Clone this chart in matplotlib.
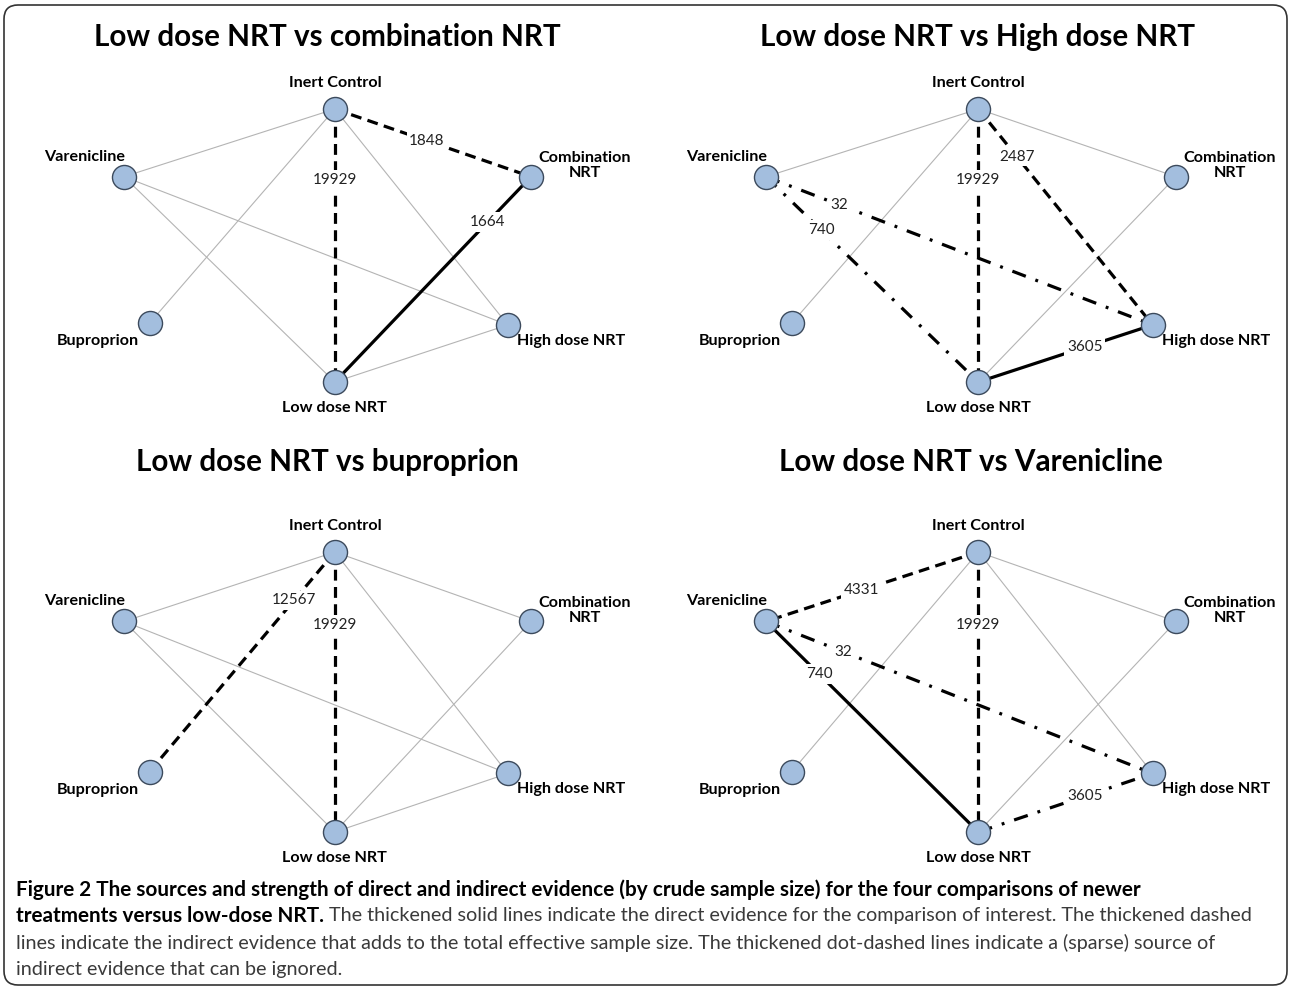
import matplotlib
matplotlib.use("Agg")
import matplotlib.pyplot as plt
from matplotlib.patches import FancyBboxPatch
from matplotlib.transforms import IdentityTransform

# ---- data ----
nodes = ["Inert Control", "Varenicline", "Combination NRT",
         "Buproprion", "High dose NRT", "Low dose NRT"]
node_labels = ["Inert Control", "Varenicline", "Combination\nNRT",
               "Buproprion", "High dose NRT", "Low dose NRT"]

# all trial comparisons in the network (thin grey lines)
network = [("Inert Control", "Varenicline"), ("Inert Control", "Combination NRT"),
           ("Inert Control", "Buproprion"), ("Inert Control", "High dose NRT"),
           ("Inert Control", "Low dose NRT"), ("Varenicline", "High dose NRT"),
           ("Varenicline", "Low dose NRT"), ("Low dose NRT", "High dose NRT"),
           ("Low dose NRT", "Combination NRT")]

titles = ["Low dose NRT vs combination NRT", "Low dose NRT vs High dose NRT",
          "Low dose NRT vs buproprion", "Low dose NRT vs Varenicline"]

# highlighted evidence: (from, to, kind, sample size)
evidence = [
    [("Inert Control", "Combination NRT", "dashed", 1848),
     ("Inert Control", "Low dose NRT", "dashed", 19929),
     ("Low dose NRT", "Combination NRT", "solid", 1664)],
    [("Inert Control", "High dose NRT", "dashed", 2487),
     ("Inert Control", "Low dose NRT", "dashed", 19929),
     ("Varenicline", "High dose NRT", "dashdot", 32),
     ("Varenicline", "Low dose NRT", "dashdot", 740),
     ("Low dose NRT", "High dose NRT", "solid", 3605)],
    [("Inert Control", "Buproprion", "dashed", 12567),
     ("Inert Control", "Low dose NRT", "dashed", 19929)],
    [("Inert Control", "Varenicline", "dashed", 4331),
     ("Inert Control", "Low dose NRT", "dashed", 19929),
     ("Varenicline", "Low dose NRT", "solid", 740),
     ("Varenicline", "High dose NRT", "dashdot", 32),
     ("Low dose NRT", "High dose NRT", "dashdot", 3605)],
]

# ---- layout / style ----
W, H = 1292, 989
layout = {"Inert Control": (0.518, 1.0), "Varenicline": (0.0, 0.752),
          "Combination NRT": (1.0, 0.752), "Buproprion": (0.063, 0.216),
          "High dose NRT": (0.943, 0.209), "Low dose NRT": (0.518, 0.0)}
label_off = {"Inert Control": (0, 26), "Varenicline": (-39, 20),
             "Combination NRT": (54, 11), "Buproprion": (-52, -18),
             "High dose NRT": (63, -16), "Low dose NRT": (0, -26)}
label_t = [[0.47, 0.26, 0.78], [0.22, 0.26, 0.19, 0.26, 0.61],
           [0.22, 0.26], [0.55, 0.26, 0.25, 0.20, 0.61]]
cols = [(124, 407), (766, 410)]
rows = [(109, 382), (552, 832)]
title_pos = [(327, 37), (977, 37), (327, 462), (971, 462)]
styles = {"solid": "-", "dashed": (0, (3.4, 2.0)), "dashdot": (0, (4.5, 3.2, 0.9, 3.2))}

node_fc = "#a3bede"
node_ec = "#3c4a5c"
head_font = "Lato"
cap_font = "Lato"

fig = plt.figure(figsize=(W / 100, H / 100), dpi=100)

for i in range(4):
    x0, w = cols[i % 2]
    ytop, ybot = rows[i // 2]
    ax = fig.add_axes([x0 / W, 1 - ybot / H, w / W, (ybot - ytop) / H])
    ax.set_xlim(0, 1)
    ax.set_ylim(0, 1)
    ax.axis("off")

    hl = {frozenset((a, b)) for a, b, _, _ in evidence[i]}
    for a, b in network:
        if frozenset((a, b)) in hl:
            continue
        ax.plot([layout[a][0], layout[b][0]], [layout[a][1], layout[b][1]],
                color="#b4b4b4", lw=0.8, zorder=1, clip_on=False)

    for (a, b, kind, n), t in zip(evidence[i], label_t[i]):
        xa, ya = layout[a]
        xb, yb = layout[b]
        ax.plot([xa, xb], [ya, yb], color="black", lw=2.3, linestyle=styles[kind],
                zorder=2, clip_on=False, solid_capstyle="butt", dash_capstyle="butt")
        ax.text(xa + t * (xb - xa), ya + t * (yb - ya), str(n), ha="center", va="center",
                fontsize=11, family=head_font, color="#222222", zorder=3,
                bbox=dict(fc="white", ec="none", pad=2.0))

    xs = [layout[n][0] for n in nodes]
    ys = [layout[n][1] for n in nodes]
    ax.scatter(xs, ys, s=300, c=node_fc, edgecolors=node_ec, linewidths=1.0,
               zorder=4, clip_on=False)
    for n, lab in zip(nodes, node_labels):
        dx, dy = label_off[n]
        ax.annotate(lab, layout[n], xytext=(dx, dy), textcoords="offset pixels",
                    ha="center", va="center", fontsize=11.6, fontweight="bold",
                    family=head_font, linespacing=1.1, zorder=5)

for title, (tx, ty) in zip(titles, title_pos):
    fig.text(tx / W, 1 - ty / H, title, ha="center", va="center", fontsize=21.3,
             fontweight="bold", family=head_font)

# frame
frame = FancyBboxPatch((4, 4), W - 9, H - 9, boxstyle="round,pad=0,rounding_size=14",
                       transform=IdentityTransform(), fc="none", ec="#333333", lw=1.2)
fig.add_artist(frame)

# caption
cap_lines = [
    ("Figure 2 The sources and strength of direct and indirect evidence (by crude sample size) for the four comparisons of newer", ""),
    ("treatments versus low-dose NRT.", " The thickened solid lines indicate the direct evidence for the comparison of interest. The thickened dashed"),
    ("", "lines indicate the indirect evidence that adds to the total effective sample size. The thickened dot-dashed lines indicate a (sparse) source of"),
    ("", "indirect evidence that can be ignored."),
]
cap_y = [890, 916, 943, 969]
renderer = fig.canvas.get_renderer()

# pick a caption size so the first (bold) line spans the same width as in the figure
probe = fig.text(0, 0, cap_lines[0][0], fontsize=10, fontweight="bold", family=cap_font)
cap_bold = 10 * 1134 / probe.get_window_extent(renderer).width
probe.remove()
probe = fig.text(0, 0, cap_lines[2][1], fontsize=10, family=cap_font)
cap_reg = min(cap_bold, 10 * 1205 / probe.get_window_extent(renderer).width)
probe.remove()

for (bold, reg), cy in zip(cap_lines, cap_y):
    x = 16
    if bold:
        tb = fig.text(x / W, 1 - cy / H, bold, ha="left", va="center", fontsize=cap_bold,
                      fontweight="bold", family=cap_font, color="black")
        x = tb.get_window_extent(renderer).x1
    if reg:
        fig.text(x / W, 1 - cy / H, reg, ha="left", va="center", fontsize=cap_reg,
                 family=cap_font, color="#3a3a3a")

fig.savefig("out.png", dpi=100)
